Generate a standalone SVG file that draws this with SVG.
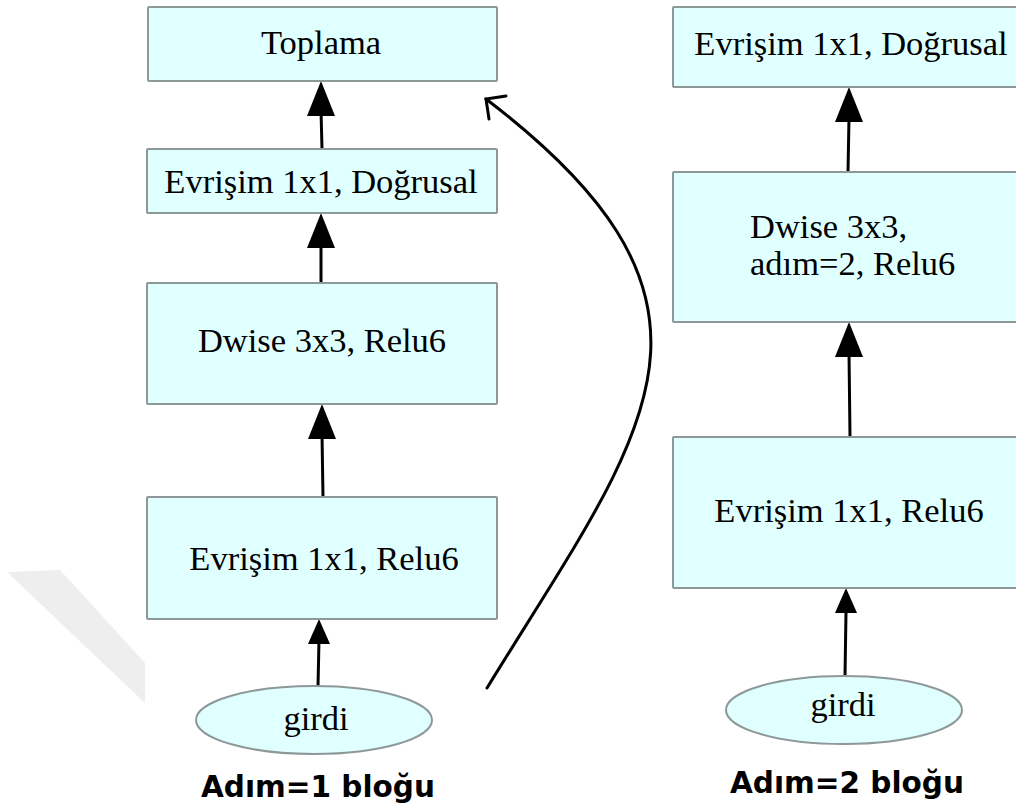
<svg xmlns="http://www.w3.org/2000/svg" xmlns:xlink="http://www.w3.org/1999/xlink" width="1016" height="810" viewBox="0 0 1016 810">
  <style>
    .box { fill: #e0ffff; stroke: #8e9898; stroke-width: 2; }
    .lbl { font-family: "Liberation Serif", "Times New Roman", serif; font-size: 34.5px; fill: #000; }
    .mid { text-anchor: middle; }
    .ttl { font-family: "DejaVu Sans", Verdana, sans-serif; font-weight: bold; font-size: 29.5px; fill: #000; text-anchor: middle; }
    .edge { stroke: #000; stroke-width: 3; fill: none; stroke-linecap: round; }
    .head { fill: #000; }
    .wm { fill: #eeeeee; }
  </style>
  <defs>
    <path id="bigHead" d="M0,0 L-14,35 L14,35 Z"/>
    <path id="smallHead" d="M0,0 L-11,25 L11,25 Z"/>
  </defs>

  <rect width="1016" height="810" fill="#ffffff"/>

  <!-- faint background band -->
  <polygon class="wm" points="7,572 60,570 145,663 145,703"/>

  <!-- connectors -->
  <g id="connectors">
    <!-- left block -->
    <line class="edge" x1="318" y1="686" x2="319" y2="640"/>
    <use xlink:href="#smallHead" class="head" x="319" y="619"/>
    <line class="edge" x1="323" y1="497" x2="322" y2="434"/>
    <use xlink:href="#bigHead" class="head" x="322" y="404"/>
    <line class="edge" x1="321" y1="283" x2="321" y2="242"/>
    <use xlink:href="#bigHead" class="head" x="321" y="213"/>
    <line class="edge" x1="322" y1="149" x2="321" y2="110"/>
    <use xlink:href="#bigHead" class="head" x="321" y="81"/>
    <!-- skip connection -->
    <path class="edge" d="M487,688 C644,432 760,308 486,99"/>
    <path class="edge" d="M506,96 L486,99 L489,119"/>
    <!-- right block -->
    <line class="edge" x1="845" y1="676" x2="846" y2="612"/>
    <use xlink:href="#smallHead" class="head" x="846" y="588"/>
    <line class="edge" x1="850" y1="437" x2="849" y2="352"/>
    <use xlink:href="#bigHead" class="head" x="849" y="322"/>
    <line class="edge" x1="848" y1="172" x2="849" y2="118"/>
    <use xlink:href="#bigHead" class="head" x="849" y="87"/>
  </g>

  <!-- left block: stride 1 -->
  <g id="l-toplama">
    <rect class="box" x="148" y="7" width="349" height="74" rx="1"/>
    <text class="lbl mid" x="321" y="54">Toplama</text>
  </g>
  <g id="l-conv-linear">
    <rect class="box" x="147" y="149" width="350" height="64" rx="1"/>
    <text class="lbl mid" x="321" y="193">Evrişim 1x1, Doğrusal</text>
  </g>
  <g id="l-dwise">
    <rect class="box" x="147" y="283" width="350" height="121" rx="1"/>
    <text class="lbl mid" x="322" y="352">Dwise 3x3, Relu6</text>
  </g>
  <g id="l-conv-relu">
    <rect class="box" x="147" y="497" width="350" height="122" rx="1"/>
    <text class="lbl mid" x="324" y="570">Evrişim 1x1, Relu6</text>
  </g>
  <g id="l-input">
    <ellipse class="box" cx="314" cy="720" rx="118" ry="34"/>
    <text class="lbl mid" x="316" y="730">girdi</text>
  </g>
  <text class="ttl" x="318" y="797">Adım=1 bloğu</text>

  <!-- right block: stride 2 -->
  <g id="r-conv-linear">
    <rect class="box" x="673" y="7" width="360" height="80" rx="1"/>
    <text class="lbl mid" x="851" y="55">Evrişim 1x1, Doğrusal</text>
  </g>
  <g id="r-dwise">
    <rect class="box" x="673" y="172" width="360" height="150" rx="1"/>
    <text class="lbl" x="750" y="238">Dwise 3x3,</text>
    <text class="lbl" x="750" y="275">adım=2, Relu6</text>
  </g>
  <g id="r-conv-relu">
    <rect class="box" x="673" y="437" width="360" height="151" rx="1"/>
    <text class="lbl mid" x="849" y="522">Evrişim 1x1, Relu6</text>
  </g>
  <g id="r-input">
    <ellipse class="box" cx="844" cy="710" rx="118" ry="34"/>
    <text class="lbl mid" x="843" y="716">girdi</text>
  </g>
  <text class="ttl" x="847" y="793">Adım=2 bloğu</text>
</svg>
